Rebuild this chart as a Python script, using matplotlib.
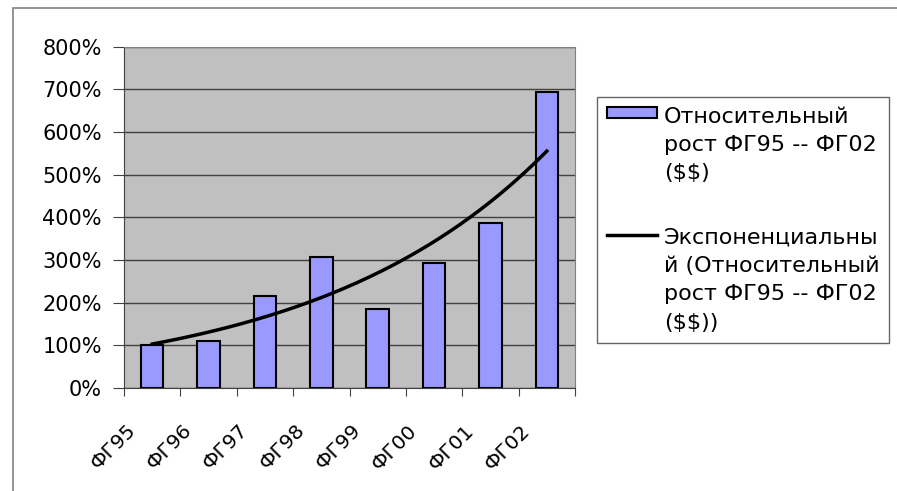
import numpy as np
import matplotlib
matplotlib.use("Agg")
import matplotlib.pyplot as plt
import matplotlib.transforms as mtransforms
from matplotlib.patches import Rectangle

plt.rcParams['font.family'] = ['DejaVu Sans']
plt.rcParams['text.parse_math'] = False

# data
categories = ["ФГ95", "ФГ96", "ФГ97", "ФГ98", "ФГ99", "ФГ00", "ФГ01", "ФГ02"]
growth = [100, 111, 215, 307, 186, 293, 386, 694]   # percent
bar_label = "Относительный\nрост ФГ95 -- ФГ02\n($$)"
trend_label = "Экспоненциальны\nй (Относительный\nрост ФГ95 -- ФГ02\n($$))"
yticks = [0, 100, 200, 300, 400, 500, 600, 700, 800]

x = np.arange(len(categories))
vals = np.array(growth, dtype=float)

# exponential trendline (least squares on log values, like Excel)
b, a = np.polyfit(x, np.log(vals), 1)
xs = np.linspace(x[0], x[-1], 200)
trend = np.exp(a + b * xs)

fig = plt.figure(figsize=(8.97, 4.91), dpi=100)
ax = fig.add_axes([124/897, 1 - 388/491, (575-124)/897, (388-46.7)/491])

# outer chart border (cut at right and bottom like the picture)
fig.patches.append(Rectangle((13/897, -0.1), 1.0, 1 - 8/491 + 0.1,
                             transform=fig.transFigure, fill=False,
                             edgecolor="#808080", linewidth=1.2))

ax.set_facecolor("#C0C0C0")
bars = ax.bar(x, vals, width=0.4, color="#9999FF", edgecolor="black",
              linewidth=1.5, zorder=3)
line, = ax.plot(xs, trend, color="black", linewidth=2.5, zorder=4)

ax.set_xlim(-0.5, len(categories) - 0.5)
ax.set_ylim(0, 800)
ax.set_yticks(yticks)
ax.set_yticklabels([f"{v}%" for v in yticks], fontsize=15)
ax.yaxis.grid(True, color="#404040", linewidth=1.0, zorder=0)
ax.set_axisbelow(True)

# category boundaries as tick marks, labels at centers
ax.set_xticks(np.arange(len(categories) + 1) - 0.5)
ax.set_xticklabels([])
ax.set_xticks(x, minor=True)
ax.set_xticklabels(categories, minor=True, rotation=45, ha="right", fontsize=14.5)
ax.tick_params(axis="x", which="minor", length=0)
ax.tick_params(axis="x", which="major", length=6, color="#404040")
ax.tick_params(axis="y", length=8, color="#404040", pad=8)
off = mtransforms.ScaledTranslation(-13/100, -28/100, fig.dpi_scale_trans)
for lab in ax.get_xticklabels(minor=True):
    lab.set_transform(lab.get_transform() + off)

for s in ax.spines.values():
    s.set_color("#808080")
ax.spines["left"].set_color("#404040")
ax.spines["bottom"].set_color("#404040")

leg = fig.legend([bars, line], [bar_label, trend_label],
                 loc="upper left", bbox_to_anchor=(597/897, 1 - 96.7/491),
                 fontsize=16, frameon=True, fancybox=False, edgecolor="#404040",
                 handlelength=2.25, handleheight=0.4, handletextpad=0.3,
                 labelspacing=2.0, borderpad=0.45, borderaxespad=0)
leg.get_frame().set_linewidth(1.0)
for t in leg.get_texts():
    t.set_linespacing(1.52)
for col in leg._legend_handle_box.get_children():
    for row in col.get_children():
        row.align = "top"

fig.savefig("out.png", dpi=100)
